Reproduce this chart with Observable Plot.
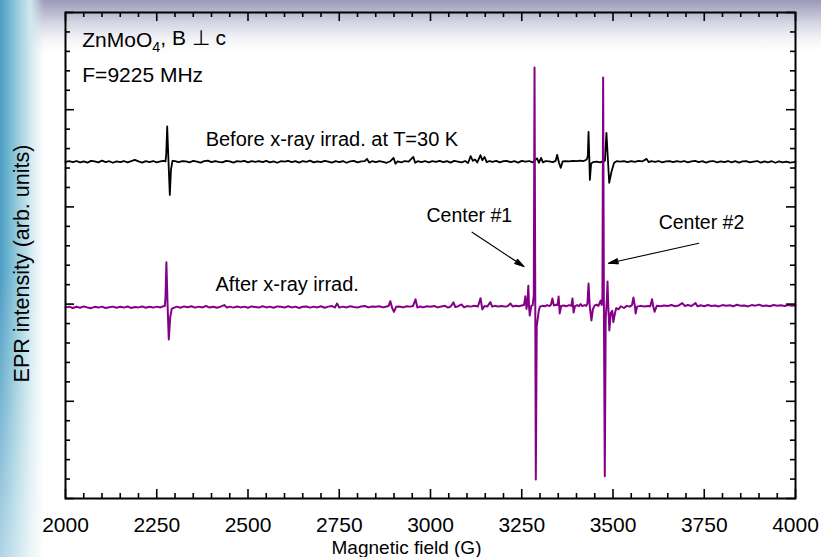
<!DOCTYPE html>
<html>
<head>
<meta charset="utf-8">
<script src="https://cdn.jsdelivr.net/npm/d3@7"></script>
<script src="https://cdn.jsdelivr.net/npm/@observablehq/plot@0.6"></script>
<style>
html, body { margin: 0; padding: 0; }
body {
  width: 821px; height: 557px; overflow: hidden;
  font-family: "Liberation Sans", Arial, sans-serif;
  background:
    linear-gradient(to bottom, rgba(255,255,255,0) 0%, rgba(255,255,255,0) 50%, rgba(255,255,255,0.55) 100%) 0 0 / 44px 100% no-repeat,
    linear-gradient(to right, #4f9dc4 0px, #6cb3d0 8px, #9acddc 18px, #d0e8ee 30px, rgba(255,255,255,0) 44px) 0 0 / 44px 100% no-repeat,
    linear-gradient(to bottom, #9a9aba 0px, #b3b3cb 10px, #dadae7 25px, #f5f5f8 40px, #ffffff 52px);
}
</style>
</head>
<body>
<div id="chart"></div>
<script>
// ---------- data (field in G, signal in arb. units relative to trace baseline) ----------
const xTickLabels = [2000, 2250, 2500, 2750, 3000, 3250, 3500, 3750, 4000];
const xMinorTicks = d3.range(2000, 4001, 50);
const yMajorTicks = [0, 5, 10, 15, 20, 25];
const yMinorTicks = d3.range(0, 26, 1);

const beforeOffset = 17.32;   // baseline of the "before" trace
const afterOffset = 9.85;     // baseline of the "after" trace

const beforeIrradiation = [
  [2000,0.00],[2010,0.03],[2020,-0.02],[2030,0.04],[2040,-0.03],[2050,0.02],[2060,-0.04],[2070,0.05],[2080,0.02],[2090,-0.03],
  [2100,0.06],[2110,-0.02],[2120,0.03],[2130,-0.05],[2140,0.02],[2150,-0.02],[2160,0.04],[2170,-0.03],[2180,0.03],[2190,0.10],
  [2200,0.02],[2210,-0.04],[2220,0.03],[2230,-0.02],[2240,0.04],[2250,-0.03],[2260,0.02],[2268,0.05],[2274,0.02],[2276,0.4],
  [2278.6,1.82],[2282,0.1],[2285.8,-1.70],[2289,-0.4],[2293,0.05],[2300,0.03],[2310,-0.02],[2320,0.04],[2330,0.02],[2340,-0.03],
  [2350,0.05],[2360,0.01],[2370,-0.04],[2380,0.03],[2390,0.06],[2400,-0.02],[2410,0.04],[2420,0.00],[2430,-0.03],[2440,0.05],
  [2450,0.02],[2460,-0.04],[2470,0.03],[2480,0.01],[2490,0.05],[2500,-0.03],[2510,0.03],[2520,0.00],[2530,0.04],[2540,-0.02],
  [2550,0.05],[2560,-0.03],[2570,0.02],[2580,-0.05],[2590,0.03],[2600,0.01],[2610,0.05],[2620,-0.02],[2630,0.03],[2640,-0.04],
  [2650,0.04],[2660,0.00],[2670,0.06],[2680,-0.03],[2690,0.02],[2700,-0.02],[2710,0.05],[2720,0.01],[2730,-0.04],[2740,0.03],
  [2750,-0.02],[2760,0.04],[2770,-0.05],[2780,0.02],[2790,0.05],[2800,-0.03],[2810,0.02],[2820,0.04],[2826,0.15],[2832,-0.04],
  [2840,0.03],[2850,-0.02],[2860,0.04],[2870,0.00],[2880,-0.05],[2890,0.03],[2899,0.20],[2904,-0.10],[2910,0.02],[2920,-0.03],
  [2930,0.04],[2940,0.01],[2953,0.25],[2958,-0.05],[2965,0.03],[2975,-0.02],[2985,0.04],[2995,-0.03],[3005,0.03],[3015,0.00],
  [3025,0.05],[3035,-0.02],[3045,0.03],[3055,-0.04],[3065,0.05],[3075,0.01],[3085,-0.03],[3095,0.04],[3103,-0.06],[3110,0.29],
  [3116,0.05],[3122,0.12],[3128,-0.04],[3137,0.34],[3142,0.08],[3148,0.25],[3154,-0.02],[3162,0.04],[3170,0.00],[3180,0.05],
  [3190,-0.03],[3200,0.03],[3210,0.04],[3220,-0.02],[3230,0.03],[3240,-0.04],[3250,0.05],[3260,0.01],[3270,0.04],[3280,-0.03],
  [3292,0.18],[3297,-0.05],[3303,0.20],[3308,-0.03],[3316,0.04],[3325,0.02],[3335,-0.02],[3343,0.05],[3347,0.36],[3352,-0.05],
  [3357,-0.31],[3362,0.02],[3370,0.04],[3380,0.02],[3390,0.05],[3400,0.03],[3410,0.06],[3420,0.04],[3428,0.12],[3431,0.3],
  [3433,1.54],[3436.7,-0.93],[3440,-0.10],[3445,-0.02],[3455,0.01],[3465,-0.03],[3472,0.02],[3478,0.05],[3482,1.49],[3489.6,-1.08],
  [3496,-0.5],[3503,-0.05],[3510,0.03],[3520,0.01],[3530,0.04],[3540,-0.02],[3550,0.03],[3560,0.00],[3570,0.05],[3580,0.02],
  [3592,0.15],[3598,-0.02],[3605,0.03],[3615,-0.01],[3625,0.04],[3635,-0.03],[3645,0.02],[3655,0.04],[3665,-0.02],[3675,0.03],
  [3685,0.00],[3695,0.04],[3705,-0.03],[3715,0.02],[3725,0.05],[3735,-0.02],[3745,0.03],[3755,-0.04],[3765,0.02],[3775,0.04],
  [3785,-0.03],[3795,0.02],[3805,-0.02],[3815,0.04],[3825,-0.03],[3835,0.03],[3845,-0.04],[3855,0.02],[3865,0.03],[3875,-0.03],
  [3885,0.01],[3895,0.04],[3905,-0.04],[3915,0.02],[3925,-0.03],[3935,0.03],[3945,-0.05],[3955,0.02],[3965,-0.03],[3975,0.01],
  [3985,-0.04],[3995,-0.02],[4000,0.01]
];

const afterIrradiation = [
  [2000,-0.03],[2010,0.02],[2020,-0.05],[2030,0.01],[2040,-0.04],[2050,0.03],[2060,-0.02],[2070,-0.06],[2080,0.01],[2090,-0.03],
  [2100,0.02],[2110,-0.05],[2120,-0.01],[2130,0.02],[2140,-0.04],[2150,0.01],[2160,-0.03],[2170,0.03],[2180,-0.05],[2190,0.00],
  [2200,-0.02],[2210,0.03],[2220,-0.04],[2230,0.01],[2240,-0.03],[2250,0.02],[2260,-0.02],[2268,0.04],[2272,0.05],[2274,0.5],
  [2276.4,2.30],[2279.5,0.2],[2283,-1.67],[2287,-0.5],[2291,-0.10],[2298,-0.03],[2305,0.02],[2315,-0.04],[2325,0.03],[2335,-0.01],
  [2345,0.04],[2355,-0.03],[2365,0.02],[2375,-0.02],[2385,0.05],[2395,-0.03],[2405,0.01],[2415,-0.04],[2425,0.02],[2435,0.10],
  [2442,-0.03],[2450,0.02],[2460,-0.03],[2470,0.03],[2480,-0.02],[2490,0.02],[2500,-0.04],[2510,0.03],[2520,0.00],[2530,-0.03],
  [2540,0.04],[2550,-0.02],[2560,0.02],[2570,-0.04],[2580,0.03],[2590,0.01],[2600,-0.03],[2610,0.04],[2620,-0.02],[2630,0.02],
  [2640,-0.05],[2650,0.01],[2660,0.03],[2670,-0.03],[2680,0.02],[2690,-0.02],[2700,0.04],[2710,-0.04],[2720,0.02],[2730,0.05],
  [2738,-0.02],[2744,0.18],[2750,-0.03],[2760,0.02],[2770,-0.02],[2780,0.04],[2790,0.00],[2800,-0.03],[2810,0.03],[2820,0.05],
  [2830,-0.02],[2840,0.03],[2850,0.01],[2860,0.04],[2870,-0.02],[2880,0.03],[2885,0.05],[2890,0.30],[2895,-0.05],[2900,-0.25],
  [2906,0.02],[2915,0.03],[2925,-0.02],[2935,0.04],[2945,0.02],[2952,0.05],[2959,0.40],[2964,-0.03],[2972,0.03],[2980,-0.02],
  [2990,0.04],[3000,0.01],[3010,0.05],[3020,-0.02],[3030,0.03],[3040,0.06],[3048,-0.03],[3056,0.04],[3063,0.24],[3068,0.00],
  [3076,0.04],[3085,0.13],[3092,-0.02],[3100,0.05],[3110,0.02],[3120,0.06],[3130,0.03],[3137,0.45],[3142,-0.12],[3148,0.05],
  [3156,0.03],[3164,0.25],[3169,0.02],[3176,0.06],[3185,0.03],[3195,0.05],[3205,0.02],[3212,0.05],[3219,0.18],[3225,0.03],
  [3233,0.06],[3242,0.04],[3250,0.08],[3256,0.10],[3260,0.55],[3263,-0.10],[3266,0.3],[3268,1.1],[3270,0.0],[3272,-0.44],
  [3276,0.05],[3280,0.10],[3283,0.6],[3285,12.32],[3287,0.5],[3288.5,-8.87],[3291,-1.0],[3296.7,-0.18],[3300,0.02],[3306,0.06],
  [3313,0.04],[3320,0.10],[3326,0.05],[3330,0.12],[3334,0.44],[3338,0.08],[3344,0.12],[3348,0.10],[3351,0.54],[3354,-0.33],
  [3358,0.05],[3365,0.08],[3372,0.04],[3380,0.10],[3386,0.06],[3389,0.44],[3392,-0.28],[3396,0.05],[3402,0.10],[3407,0.04],
  [3411,0.15],[3416,0.05],[3422,0.10],[3427,0.06],[3430,0.2],[3433,1.21],[3436,0.1],[3441,-0.69],[3445,-0.10],[3450,0.08],
  [3455,0.12],[3460,0.06],[3466,0.33],[3469,0.1],[3471,0.5],[3473,11.81],[3475,0.4],[3477.5,-8.70],[3480,-0.6],[3483,0.3],
  [3485,1.31],[3487,0.1],[3490,-1.21],[3494,-0.3],[3498,-0.2],[3501,-0.78],[3505,-0.35],[3509,-0.05],[3515,-0.12],[3522,0.04],
  [3530,-0.05],[3538,0.06],[3546,0.02],[3552,0.10],[3556,0.49],[3560,0.05],[3562,-0.33],[3566,0.02],[3575,0.06],[3585,0.03],
  [3595,0.05],[3602,0.04],[3607,0.40],[3610,0.05],[3614,-0.24],[3620,0.06],[3630,0.04],[3640,0.08],[3650,0.05],[3660,0.10],
  [3670,0.04],[3680,0.08],[3690,0.20],[3697,0.05],[3705,0.10],[3715,0.05],[3726,0.20],[3732,0.03],[3740,0.09],[3750,0.04],
  [3760,0.10],[3770,0.05],[3780,0.08],[3790,0.03],[3800,0.10],[3810,0.06],[3820,0.09],[3830,0.04],[3840,0.12],[3850,0.06],
  [3860,0.08],[3870,0.03],[3880,0.10],[3890,0.07],[3900,0.12],[3910,0.05],[3920,0.08],[3930,0.04],[3940,0.10],[3950,0.06],
  [3960,0.09],[3970,0.05],[3980,0.10],[3990,0.07],[4000,0.08]
];

const annotations = [
  {text: "ZnMoO4, B ⊥ c", field: 2046, value: 23.2, size: 21},
  {text: "F=9225 MHz", field: 2046, value: 21.45, size: 21},
  {text: "Before x-ray irrad. at T=30 K", field: 2384, value: 18.11, size: 20},
  {text: "After x-ray irrad.", field: 2411, value: 10.66, size: 20},
  {text: "Center #1", field: 2989, value: 14.20, size: 19.5},
  {text: "Center #2", field: 3625, value: 13.87, size: 19.5}
];
const arrows = [
  {f1: 3114, v1: 13.70, f2: 3256, v2: 11.93},
  {f1: 3735, v1: 13.13, f2: 3488, v2: 12.10}
];

// ---------- layout ----------
const width = 821, height = 557;
const margin = {left: 65, right: 26, top: 12, bottom: 59};
const pxPerField = (width - margin.left - margin.right) / 2000;
const pxPerValue = (height - margin.top - margin.bottom) / 25;
const majorLen = 9, minorLen = 5;

const beforeRows = beforeIrradiation.map(([field, v]) => ({field, value: v + beforeOffset}));
const afterRows = afterIrradiation.map(([field, v]) => ({field, value: v + afterOffset}));
const xMajorSet = new Set(xTickLabels);
const yMajorSet = new Set(yMajorTicks);
const xTickRows = xMinorTicks.map(t => ({t, len: xMajorSet.has(t) ? majorLen : minorLen}));
const yTickRows = yMinorTicks.map(t => ({t, len: yMajorSet.has(t) ? majorLen : minorLen}));

const purple = "#850088";

const chart = Plot.plot({
  width, height,
  marginLeft: margin.left, marginRight: margin.right, marginTop: margin.top, marginBottom: margin.bottom,
  x: {domain: [2000, 4000], axis: null},
  y: {domain: [0, 25], axis: null},
  style: {background: "transparent", fontFamily: "'Liberation Sans', Arial, sans-serif", overflow: "visible", color: "black"},
  marks: [
    Plot.line(beforeRows, {x: "field", y: "value", stroke: "black", strokeWidth: 1.8, strokeLinejoin: "round"}),
    Plot.line(afterRows, {x: "field", y: "value", stroke: purple, strokeWidth: 2, strokeLinejoin: "round"}),
    // inward ticks: bottom, top, left, right
    Plot.ruleX(xTickRows, {x: "t", y1: 0, y2: d => d.len / pxPerValue, stroke: "black", strokeWidth: 1.6}),
    Plot.ruleX(xTickRows, {x: "t", y1: 25, y2: d => 25 - d.len / pxPerValue, stroke: "black", strokeWidth: 1.6}),
    Plot.ruleY(yTickRows, {y: "t", x1: 2000, x2: d => 2000 + d.len / pxPerField, stroke: "black", strokeWidth: 1.6}),
    Plot.ruleY(yTickRows, {y: "t", x1: 4000, x2: d => 4000 - d.len / pxPerField, stroke: "black", strokeWidth: 1.6}),
    Plot.frame({stroke: "black", strokeWidth: 2}),
    // tick labels
    Plot.text(xTickLabels, {x: d => d, y: 0, text: d => String(d), dy: 33, lineAnchor: "bottom", fontSize: 21, fill: "black"}),
    // axis titles
    Plot.text(["Magnetic field (G)"], {frameAnchor: "bottom", textAnchor: "middle", dx: -24, dy: 55, lineAnchor: "bottom", fontSize: 19, fill: "black"}),
    Plot.text(["EPR intensity (arb. units)"], {frameAnchor: "left", textAnchor: "middle", lineAnchor: "middle", dx: -43, dy: 8, rotate: -90, fontSize: 21.5, fill: "black"}),
    // annotations
    Plot.text(annotations, {x: "field", y: "value", text: "text", fontSize: d => d.size, textAnchor: "start", lineAnchor: "bottom", fill: "black"}),
    Plot.arrow(arrows, {x1: "f1", y1: "v1", x2: "f2", y2: "v2", stroke: "black", strokeWidth: 1.1, headLength: 13, headAngle: 30})
  ]
});

document.getElementById("chart").appendChild(chart);

// subscript in ZnMoO4
d3.select(chart).selectAll("text").each(function() {
  const el = d3.select(this);
  if (el.text() === "ZnMoO4, B ⊥ c") {
    el.text(null);
    el.append("tspan").text("ZnMoO");
    el.append("tspan").attr("dy", "0.3em").attr("font-size", "0.68em").text("4");
    el.append("tspan").attr("dy", "-0.3em").text(", B ⊥ c");
  }
});

// filled arrow heads
d3.select(chart).selectAll('g[aria-label="arrow"] path').each(function() {
  const d = this.getAttribute("d") || "";
  const n = (d.match(/-?\d*\.?\d+(?:e[-+]?\d+)?/gi) || []).map(Number);
  if (n.length >= 10) {
    const [, , x2, y2, hx1, hy1, , , hx2, hy2] = n;
    d3.select(this.parentNode).append("path")
      .attr("d", `M${hx1},${hy1}L${x2},${y2}L${hx2},${hy2}Z`)
      .attr("fill", "black").attr("stroke", "black").attr("stroke-width", 0.8);
  }
});
</script>
</body>
</html>
